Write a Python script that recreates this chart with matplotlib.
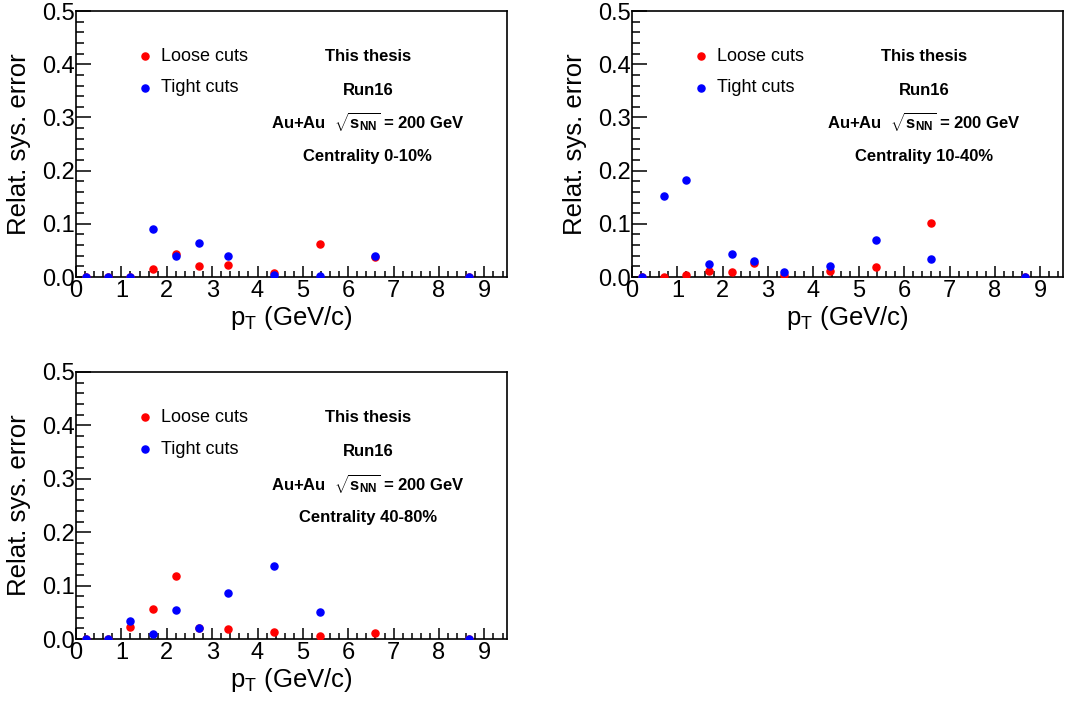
import numpy as np
import matplotlib.pyplot as plt
from matplotlib.ticker import MultipleLocator

plt.rcParams['font.family'] = ['Liberation Sans', 'DejaVu Sans']
plt.rcParams['mathtext.fontset'] = 'custom'
plt.rcParams['mathtext.rm'] = 'Liberation Sans'
plt.rcParams['mathtext.bf'] = 'Liberation Sans:bold'
plt.rcParams['mathtext.it'] = 'Liberation Sans:italic'

# pT bin centres (GeV/c)
pt = [0.22, 0.71, 1.2, 1.7, 2.2, 2.7, 3.35, 4.36, 5.37, 6.6, 8.66]

# centrality 0-10%
loose_0_10 = [0, 0, 0, 0.015, 0.044, 0.021, 0.023, 0.0075, 0.063, 0.037, 0]
tight_0_10 = [0, 0, 0, 0.0906, 0.040, 0.064, 0.040, 0.0044, 0.002, 0.040, 0]
# centrality 10-40%
loose_10_40 = [0, 0, 0.003, 0.012, 0.009, 0.026, 0.003, 0.011, 0.019, 0.102, 0]
tight_10_40 = [0, 0.1525, 0.1825, 0.025, 0.044, 0.031, 0.009, 0.021, 0.069, 0.034, 0]
# centrality 40-80%
loose_40_80 = [0, 0, 0.023, 0.056, 0.118, 0.020, 0.019, 0.0125, 0.006, 0.011, 0]
tight_40_80 = [0, 0, 0.034, 0.010, 0.054, 0.021, 0.087, 0.137, 0.050, np.nan, 0]

centralities = ['0-10%', '10-40%', '40-80%']
loose_all = [loose_0_10, loose_10_40, loose_40_80]
tight_all = [tight_0_10, tight_10_40, tight_40_80]

fig = plt.figure(figsize=(10.65, 7.04), dpi=100)
# axes rectangles in figure fractions
rects = [[0.0714, 0.6065, 0.4047, 0.3778],
         [0.5934, 0.6065, 0.4047, 0.3778],
         [0.0714, 0.0923, 0.4047, 0.3793]]

for i in range(3):
    ax = fig.add_axes(rects[i])
    ax.scatter(pt, loose_all[i], s=26, color='#ff0000', zorder=3, label='Loose cuts')
    ax.scatter(pt, tight_all[i], s=26, color='#0000ff', zorder=4, label='Tight cuts')
    ax.set_xlim(0, 9.5)
    ax.set_ylim(0, 0.5)
    ax.xaxis.set_major_locator(MultipleLocator(1))
    ax.xaxis.set_minor_locator(MultipleLocator(0.2))
    ax.yaxis.set_major_locator(MultipleLocator(0.1))
    ax.yaxis.set_minor_locator(MultipleLocator(0.02))
    ax.yaxis.set_major_formatter(plt.FormatStrFormatter('%.1f'))
    ax.tick_params(axis='both', which='both', direction='in', top=False, right=False,
                   width=1.1, labelsize=17)
    ax.tick_params(axis='y', which='major', length=11, pad=0.5)
    ax.tick_params(axis='y', which='minor', length=6)
    ax.tick_params(axis='x', which='major', length=8, pad=2)
    ax.tick_params(axis='x', which='minor', length=4)
    for sp in ax.spines.values():
        sp.set_linewidth(1.2)
    ax.set_ylabel('Relat. sys. error', fontsize=18.5)
    ax.yaxis.set_label_coords(-0.105, 0.5)
    ax.set_xlabel(r'p$_{\mathrm{T}}$ (GeV/c)', fontsize=18.5)
    ax.xaxis.set_label_coords(0.5, -0.1)

    # legend drawn by hand, ROOT style
    ax.scatter([0.160], [0.831], s=26, color='#ff0000', transform=ax.transAxes, clip_on=False)
    ax.scatter([0.160], [0.711], s=26, color='#0000ff', transform=ax.transAxes, clip_on=False)
    ax.text(0.197, 0.831, 'Loose cuts', fontsize=13, va='center', transform=ax.transAxes)
    ax.text(0.197, 0.711, 'Tight cuts', fontsize=13, va='center', transform=ax.transAxes)

    tx = 0.677
    ax.text(tx, 0.831, 'This thesis', fontsize=12, fontweight='bold', ha='center', va='center', transform=ax.transAxes)
    ax.text(tx, 0.703, 'Run16', fontsize=12, fontweight='bold', ha='center', va='center', transform=ax.transAxes)
    ax.text(tx, 0.583, r'Au+Au  $\mathbf{\sqrt{s_{NN}}}$ = 200 GeV', fontsize=12, fontweight='bold',
            ha='center', va='center', transform=ax.transAxes)
    ax.text(tx, 0.455, 'Centrality ' + centralities[i], fontsize=12, fontweight='bold',
            ha='center', va='center', transform=ax.transAxes)

fig.savefig('out.png', dpi=100)
